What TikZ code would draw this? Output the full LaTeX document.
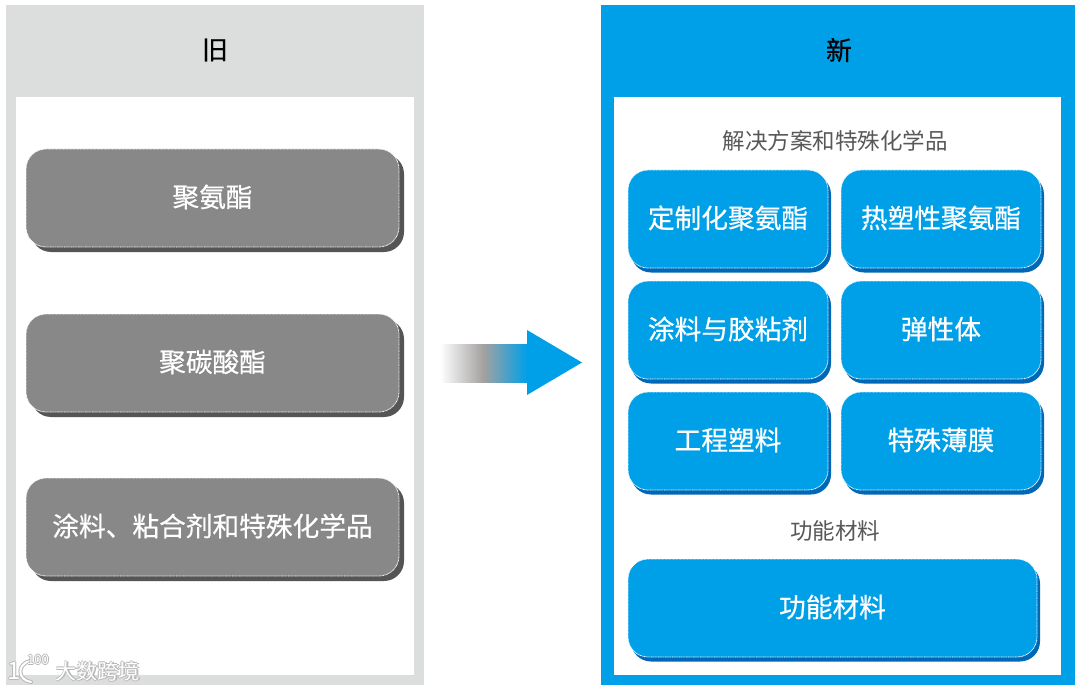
\documentclass[tikz,border=0pt]{standalone}
\usepackage{fontspec}
\setmainfont{Noto Sans CJK SC}
\newfontfamily\boxfont[FakeBold=0.5]{Noto Sans CJK SC}
\usetikzlibrary{shadows}
\definecolor{panelgrey}{HTML}{DCDDDD}
\definecolor{boxgrey}{HTML}{888888}
\definecolor{shadowgrey}{HTML}{555555}
\definecolor{newblue}{HTML}{00A0E9}
\definecolor{shadowblue}{HTML}{0068B7}
\definecolor{labelgrey}{HTML}{595757}
\definecolor{midgrey}{HTML}{A3A1A0}
\newcommand{\boxtext}[1]{\raisebox{1pt}[\height][\depth]{#1}}
\tikzset{
	oldbox/.style={draw=white, dash pattern=on 0.8pt off 0.6pt, line width=0.8pt, fill=boxgrey, rounded corners=20pt,
		text=white, font=\boxfont\fontsize{26.7}{30}\selectfont, inner sep=0pt, minimum width=373pt, minimum height=98pt,
		drop shadow={shadow xshift=5pt, shadow yshift=-5pt, opacity=1, fill=shadowgrey, draw=none}},
	newbox/.style={draw=white, dash pattern=on 0.8pt off 0.6pt, line width=0.8pt, fill=newblue, rounded corners=20pt,
		text=white, font=\boxfont\fontsize{26.7}{30}\selectfont, inner sep=0pt, minimum width=200pt, minimum height=98pt,
		drop shadow={shadow xshift=3pt, shadow yshift=-4.5pt, opacity=1, fill=shadowblue, draw=none}},
	sublabel/.style={text=labelgrey, font=\fontsize{22.5}{26}\selectfont, inner sep=0pt},
	headlabel/.style={text=black, font=\boxfont\fontsize{26}{30}\selectfont, inner sep=0pt},
	markhalo/.style={text=black!28, inner sep=0pt},
	marktext/.style={text=white, inner sep=0pt}
}
\begin{document}
\begin{tikzpicture}[x=1pt,y=-1pt]

	\useasboundingbox (0,0) rectangle (1080,690);

	% panels
	\fill[panelgrey] (6,5) rectangle (424,685);
	\fill[white] (16,97) rectangle (414,675);
	\fill[newblue] (601,5) rectangle (1075,685);
	\fill[white] (614,97) rectangle (1061,675);

	\node[headlabel] (oldhead) at (215,50) {旧};
	\node[headlabel] (newhead) at (839,50) {新};

	% left column
	\foreach \i / \y / \t in {
	1/198/聚氨酯,
	2/363/聚碳酸酯,
	3/527/涂料、粘合剂和特殊化学品}
	{
		\node[oldbox] (old\i) at (212.5,\y) {\boxtext{\t}};
	};

	% right column
	\node[sublabel] (sub1) at (835,141) {解决方案和特殊化学品};
	\foreach \i / \x / \y / \t in {
	1/728/219/定制化聚氨酯,
	2/941/219/热塑性聚氨酯,
	3/728/330/涂料与胶粘剂,
	4/941/330/弹性体,
	5/728/441/工程塑料,
	6/941/441/特殊薄膜}
	{
		\node[newbox] (new\i) at (\x,\y) {\boxtext{\t}};
	};
	\node[sublabel] (sub2) at (835,531) {功能材料};
	\node[newbox, minimum width=409pt] (new7) at (832.5,608) {\boxtext{功能材料}};

	% arrow
	\shade[left color=white, right color=newblue, middle color=midgrey] (440,344) rectangle (527,382);
	\fill[newblue] (527,330) -- (582,362.5) -- (527,395) -- cycle;

	% watermark
	\draw[black!28, line width=4pt, line cap=round] (30,661) .. controls (17,664) and (17,680) .. (31,682);
	\draw[white, line width=2pt, line cap=round] (30,661) .. controls (17,664) and (17,680) .. (31,682);
	\foreach \k / \dx / \dy in {1/-1/0, 2/1/0, 3/0/-1, 4/0/1}
	{
		\node[markhalo, font=\fontsize{21}{24}\selectfont] (halo\k) at (98+\dx,671+\dy) {大数跨境};
		\node[markhalo, font=\fontsize{13}{15}\selectfont] (logohalo\k) at (38+\dx,660+\dy) {100};
		\node[markhalo, font=\fontsize{24}{26}\selectfont] (onehalo\k) at (14+\dx,671+\dy) {1};
	};
	\node[marktext, font=\fontsize{21}{24}\selectfont] (mark) at (98,671) {大数跨境};
	\node[marktext, font=\fontsize{13}{15}\selectfont] (logo) at (38,660) {100};
	\node[marktext, font=\fontsize{24}{26}\selectfont] (one) at (14,671) {1};
	\end{tikzpicture}
\end{document}
